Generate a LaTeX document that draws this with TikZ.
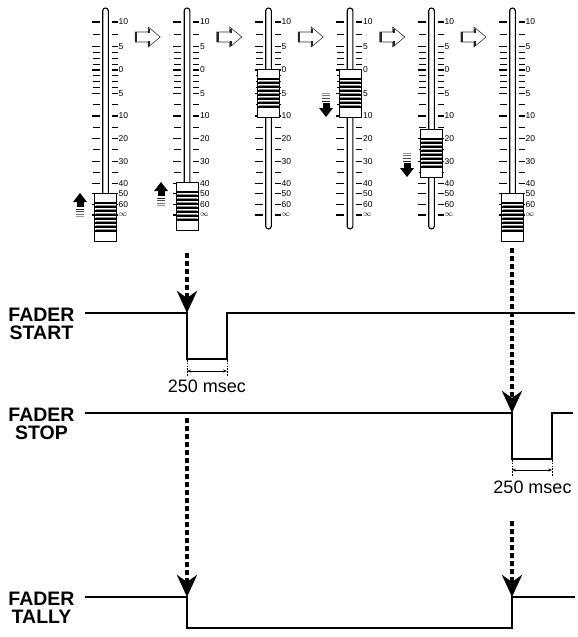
\documentclass[tikz,border=0pt]{standalone}
\usepackage{fontspec}
\setmainfont{Liberation Sans}
\usetikzlibrary{arrows.meta}

\begin{document}
\begin{tikzpicture}[x=1pt, y=-1pt, line join=round,
    track/.style={draw=black, fill=white, line width=1.1pt, rounded corners=2.8pt},
    bigtick/.style={line width=1.5pt},
    smalltick/.style={line width=0.7pt},
    scalelbl/.style={anchor=west, inner sep=0pt, font=\fontsize{8.5}{8.5}\selectfont},
    knob/.style={draw=black, fill=white, line width=1pt},
    hollow/.style={draw=black!80, fill=white, line width=0.6pt},
    hollowedge/.style={line width=2.2pt, black!85},
    signal/.style={line width=2.2pt, line join=miter},
    siglbl/.style={anchor=north, align=center, inner sep=0pt, font=\fontsize{19.5}{18}\selectfont\bfseries},
    dotarrow/.style={line width=4.5pt, dash pattern=on 4.5pt off 3.5pt, -{Stealth[length=22pt, width=20pt, inset=7pt]}},
    dimguide/.style={line width=0.6pt, dash pattern=on 1.6pt off 1.2pt},
    dimarrow/.style={line width=0.6pt, {Stealth[length=4pt, width=3pt]}-{Stealth[length=4pt, width=3pt]}},
    msec/.style={anchor=base, inner sep=0pt, font=\fontsize{18}{18}\selectfont}]

    \useasboundingbox (0,0) rectangle (578,637);

    % Six faders: centre x / top of the knob
    \foreach \fx/\ky [count=\f] in {105.5/193, 187/182, 268.5/69, 350/69, 431.5/129, 512.5/193} {
        \draw[track] (\fx-2.8,8) rectangle (\fx+2.8,229);
        % scale with numbers
        \foreach \ty/\lab [count=\t] in {22/10, 46.7/5, 70/0, 93.3/5, 116/10, 138.3/20, 161.3/30, 183.3/40, 193.3/50, 204.7/60, 215/$\infty$} {
            \draw[bigtick] (\fx-14,\ty) -- (\fx-6,\ty);
            \draw[bigtick] (\fx+6,\ty) -- (\fx+12,\ty);
            \node[scalelbl] (s\f-\t) at (\fx+13,\ty) {\lab};
        }
        \foreach \ty in {34.3, 52.5, 58.3, 64.2, 75.8, 81.7, 87.5, 104.7, 127.2, 149.8, 172.3} {
            \draw[smalltick] (\fx-13,\ty) -- (\fx-6,\ty);
            \draw[smalltick] (\fx+6,\ty) -- (\fx+12,\ty);
        }
        % knob
        \draw[knob] (\fx-11,\ky) rectangle (\fx+11,\ky+48);
        \foreach \s in {0,...,7}
            \draw[line width=1.5pt] (\fx-11,\ky+10+\s*4) -- (\fx+11,\ky+10+\s*4);
        \foreach \s in {0,...,6}
            \draw[line width=0.8pt, black!45] (\fx-10,\ky+12+\s*4) -- (\fx+10,\ky+12+\s*4);
    }

    % Hollow arrows between the faders
    \foreach \mx in {146.25, 227.75, 309.25, 390.75, 472} {
        \draw[hollow] (\mx-11,32) -- (\mx+2,32) -- (\mx+2,27) -- (\mx+14,37)
            -- (\mx+2,47) -- (\mx+2,42) -- (\mx-11,42) -- cycle;
        \draw[hollowedge] (\mx-10,32) -- (\mx-10,42);
        \draw[hollowedge] (\mx+3,28.5) -- (\mx+3,33);
        \draw[hollowedge] (\mx+3,41) -- (\mx+3,45.5);
    }

    % Small up arrows (fader moves up)
    \foreach \ax/\ay in {80/193, 161/182} {
        \fill (\ax-7,\ay+9) -- (\ax,\ay) -- (\ax+7,\ay+9) -- cycle;
        \fill (\ax-3.5,\ay+8.5) rectangle (\ax+3.5,\ay+14);
        \foreach \k/\gr in {0/85, 1/70, 2/55, 3/40}
            \draw[line width=0.9pt, black!\gr] (\ax-4,\ay+16+\k*2.6) -- (\ax+4,\ay+16+\k*2.6);
    }

    % Small down arrows (fader moves down)
    \foreach \ax/\ay in {326/117, 407/177} {
        \fill (\ax-7,\ay-9) -- (\ax,\ay) -- (\ax+7,\ay-9) -- cycle;
        \fill (\ax-3.5,\ay-8.5) rectangle (\ax+3.5,\ay-14);
        \foreach \k/\gr in {0/85, 1/70, 2/55, 3/40}
            \draw[line width=0.9pt, black!\gr] (\ax-4,\ay-16-\k*2.6) -- (\ax+4,\ay-16-\k*2.6);
    }

    % Signal levels
    \coordinate (startL) at (85,313);
    \coordinate (startFall) at (187,313);
    \coordinate (startRise) at (227,313);
    \coordinate (startR) at (575,313);
    \coordinate (stopL) at (85,413);
    \coordinate (stopFall) at (512,413);
    \coordinate (stopRise) at (552,413);
    \coordinate (stopR) at (573,413);
    \coordinate (tallyL) at (85,597);
    \coordinate (tallyFall) at (187,597);
    \coordinate (tallyRise) at (512,597);
    \coordinate (tallyR) at (575,597);

    \draw[signal] (startL) -- (startFall) -- ++(0,46) -| (startRise) -- (startR);
    \draw[signal] (stopL) -- (stopFall) -- ++(0,46) -| (stopRise) -- (stopR);
    \draw[signal] (tallyL) -- (tallyFall) -- ++(0,31) -| (tallyRise) -- (tallyR);

    \node[siglbl] (lblstart) at (41.5,308) {FADER\\START};
    \node[siglbl] (lblstop) at (41.5,408) {FADER\\STOP};
    \node[siglbl] (lbltally) at (41.5,592) {FADER\\TALLY};

    % Dotted trigger arrows
    \coordinate (d1) at (187,253);
    \coordinate (d2) at (187,418);
    \coordinate (d3) at (512,248);
    \coordinate (d4) at (512,521);
    \draw[dotarrow] (d1) -- (startFall);
    \draw[dotarrow] (d2) -- (tallyFall);
    \draw[dotarrow] (d3) -- (stopFall);
    \draw[dotarrow] (d4) -- (tallyRise);

    % 250 msec pulse widths
    \coordinate (startDimA) at (187,360);
    \coordinate (startDimB) at (227,360);
    \draw[dimguide] (startDimA) -- ++(0,16);
    \draw[dimguide] (startDimB) -- ++(0,16);
    \draw[dimarrow] ([yshift=-11pt]startDimA) -- ([yshift=-11pt]startDimB);
    \node[msec] (msecstart) at (207,392) {250 msec};

    \coordinate (stopDimA) at (512,460);
    \coordinate (stopDimB) at (552,460);
    \draw[dimguide] (stopDimA) -- ++(0,16);
    \draw[dimguide] (stopDimB) -- ++(0,16);
    \draw[dimarrow] ([yshift=-10pt]stopDimA) -- ([yshift=-10pt]stopDimB);
    \node[msec] (msecstop) at (532.5,493) {250 msec};

\end{tikzpicture}
\end{document}
